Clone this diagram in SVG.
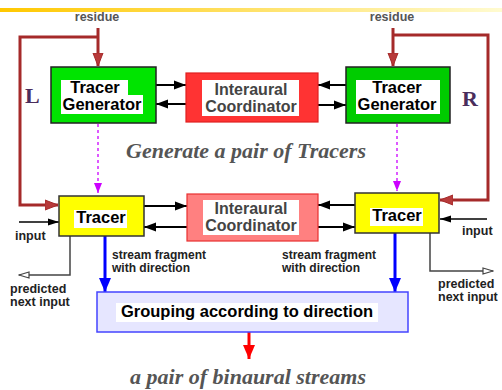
<svg xmlns="http://www.w3.org/2000/svg" width="502" height="390" viewBox="0 0 502 390">
<style>
.box{font-family:"Liberation Sans",Arial,sans-serif;font-weight:bold;font-size:16.5px;text-anchor:middle}
.ic{font-family:"Liberation Sans",Arial,sans-serif;font-weight:bold;font-size:16px;text-anchor:middle;fill:#444}
.lbl{font-family:"Liberation Sans",Arial,sans-serif;font-weight:bold;font-size:12.5px;fill:#222}
.sf{font-family:"Liberation Sans",Arial,sans-serif;font-weight:bold;font-size:12px;fill:#222}
.res{font-family:"Liberation Sans",Arial,sans-serif;font-weight:bold;font-size:12.5px;fill:#555;text-anchor:middle}
.ital{font-family:"Liberation Serif","Times New Roman",serif;font-weight:bold;font-style:italic;font-size:22px;fill:#555;text-anchor:middle}
.lr{font-family:"Liberation Serif","Times New Roman",serif;font-weight:bold;font-size:22px;fill:#4a2d5c}
.red{fill:none;stroke:#a52a2a;stroke-width:3}
.blk{stroke:#000;stroke-width:2;fill:none}
.thin{stroke:#000;stroke-width:1.3;fill:none}
.gry{stroke:#444;stroke-width:1.5;fill:none}
.pur{stroke:#cc00ff;stroke-width:1.3;stroke-dasharray:3,3;fill:none}
.blu{stroke:#0000ff;stroke-width:3;fill:none}
.wbg{fill:#fff}
</style>
<defs>
<linearGradient id="bar" x1="0" x2="1" y1="0" y2="0">
<stop offset="0" stop-color="#ffc800"/>
<stop offset="1" stop-color="#fffbd0"/>
</linearGradient>
<marker id="aRed" markerUnits="userSpaceOnUse" markerWidth="14" markerHeight="12" refX="13" refY="6" orient="auto"><path d="M0,1 L13,6 L0,11 Z" fill="#b83a3a" stroke="#a52a2a" stroke-width="1"/></marker>
<marker id="aBlk" markerUnits="userSpaceOnUse" markerWidth="12" markerHeight="10" refX="12" refY="5" orient="auto"><path d="M0,0.5 L12,5 L0,9.5 Z" fill="#000"/></marker>
<marker id="aThin" markerUnits="userSpaceOnUse" markerWidth="11" markerHeight="8" refX="11" refY="4" orient="auto"><path d="M0,0.5 L11,4 L0,7.5 Z" fill="#000"/></marker>
<marker id="aOpen" markerUnits="userSpaceOnUse" markerWidth="12" markerHeight="8" refX="11" refY="4" orient="auto"><path d="M1,1 L11,4 L1,7 Z" fill="#fff" stroke="#444" stroke-width="1.2"/></marker>
<marker id="aPur" markerUnits="userSpaceOnUse" markerWidth="10" markerHeight="8" refX="10" refY="4" orient="auto"><path d="M0,0 L10,4 L0,8 Z" fill="#cc00ff"/></marker>
<marker id="aBlu" markerUnits="userSpaceOnUse" markerWidth="14" markerHeight="12" refX="14" refY="6" orient="auto"><path d="M0,0 L14,6 L0,12 Z" fill="#0000ff"/></marker>
<marker id="aRd2" markerUnits="userSpaceOnUse" markerWidth="14" markerHeight="12" refX="14" refY="6" orient="auto"><path d="M0,0 L14,6 L0,12 Z" fill="#ff0000"/></marker>
</defs>
<rect width="502" height="390" fill="#fff"/>
<rect x="0" y="8" width="502" height="4" fill="url(#bar)"/>
<text class="res" x="97" y="21">residue</text>
<text class="res" x="392" y="21">residue</text>
<text class="lr" x="25" y="103">L</text>
<text class="lr" x="462" y="106">R</text>
<text class="ital" x="246" y="158">Generate a pair of Tracers</text>
<text class="ital" x="248" y="384">a pair of binaural streams</text>

<g id="connectors">
<path class="red" d="M98,28 V66" marker-end="url(#aRed)"/>
<path class="red" d="M98,37 H20 V205 H58" marker-end="url(#aRed)"/>
<path class="red" d="M393,28 V66" marker-end="url(#aRed)"/>
<path class="red" d="M393,35 H488 V200 H440" marker-end="url(#aRed)"/>
<path class="blk" d="M156,85 H186" marker-end="url(#aBlk)"/>
<path class="blk" d="M186,104 H156" marker-end="url(#aBlk)"/>
<path class="blk" d="M346,85 H318" marker-end="url(#aBlk)"/>
<path class="blk" d="M318,105 H346" marker-end="url(#aBlk)"/>
<path class="blk" d="M144,206 H187" marker-end="url(#aBlk)"/>
<path class="blk" d="M187,227 H144" marker-end="url(#aBlk)"/>
<path class="blk" d="M355,205 H318" marker-end="url(#aBlk)"/>
<path class="blk" d="M318,227 H355" marker-end="url(#aBlk)"/>
<path class="pur" d="M98,124 V193" marker-end="url(#aPur)"/>
<path class="pur" d="M397,124 V191" marker-end="url(#aPur)"/>
<path class="thin" d="M19,222 H59" marker-end="url(#aThin)"/>
<path class="thin" d="M487,219 H440" marker-end="url(#aThin)"/>
<path class="gry" d="M70,236 V275 H19" marker-end="url(#aOpen)"/>
<path class="gry" d="M430,233 V271 H493" marker-end="url(#aOpen)"/>
<path class="blu" d="M105,236 V292" marker-end="url(#aBlu)"/>
<path class="blu" d="M395,233 V292" marker-end="url(#aBlu)"/>
<path stroke="#ff0000" stroke-width="3" fill="none" d="M249,332 V359" marker-end="url(#aRd2)"/>
</g>

<g id="tracerGenL">
<rect x="51" y="67" width="105" height="56" fill="#00e400" stroke="#222" stroke-width="1.5"/>
<rect class="wbg" x="61" y="80" width="67" height="16"/>
<rect class="wbg" x="61" y="95" width="82" height="19"/>
<text class="box" x="95" y="93">Tracer</text>
<text class="box" x="102" y="110">Generator</text>
</g>
<g id="icTop">
<rect x="186" y="73" width="132" height="49" fill="#ff3333" stroke="#e02020" stroke-width="1.2"/>
<rect class="wbg" x="202" y="80" width="97" height="36"/>
<text class="ic" x="251" y="95">Interaural</text>
<text class="ic" x="251" y="112">Coordinator</text>
</g>
<g id="tracerGenR">
<rect x="346" y="67" width="104" height="56" fill="#00cc00" stroke="#222" stroke-width="1.5"/>
<rect class="wbg" x="356" y="80" width="84" height="34"/>
<text class="box" x="397" y="93">Tracer</text>
<text class="box" x="397" y="110">Generator</text>
</g>
<g id="tracerL">
<rect x="59" y="196" width="85" height="40" fill="#ffff00" stroke="#333" stroke-width="1.5"/>
<rect class="wbg" x="74" y="210" width="53" height="18"/>
<text class="box" x="101" y="223">Tracer</text>
</g>
<g id="icBottom">
<rect x="187" y="194" width="131" height="47" fill="#ff8080" stroke="#e83030" stroke-width="1.2"/>
<rect class="wbg" x="203" y="200" width="96" height="35"/>
<text class="ic" x="251" y="214">Interaural</text>
<text class="ic" x="251" y="231">Coordinator</text>
</g>
<g id="tracerR">
<rect x="355" y="193" width="84" height="40" fill="#ffff00" stroke="#333" stroke-width="1.5"/>
<rect class="wbg" x="370" y="208" width="53" height="18"/>
<text class="box" x="397" y="221">Tracer</text>
</g>
<g id="grouping">
<rect x="97" y="292" width="311" height="40" fill="#e6e6ff" stroke="#4444ff" stroke-width="1.5"/>
<rect class="wbg" x="116" y="303" width="262" height="19"/>
<text class="box" x="247" y="317">Grouping according to direction</text>
</g>
<g id="labels">
<text class="lbl" x="15" y="240">input</text>
<text class="lbl" x="462" y="235">input</text>
<text class="lbl" x="10" y="293">predicted</text>
<text class="lbl" x="10" y="306">next input</text>
<text class="lbl" x="438" y="288">predicted</text>
<text class="lbl" x="438" y="301">next input</text>
<text class="sf" x="112" y="259">stream fragment</text>
<text class="sf" x="112" y="272">with direction</text>
<text class="sf" x="282" y="259">stream fragment</text>
<text class="sf" x="282" y="272">with direction</text>
</g>
</svg>
